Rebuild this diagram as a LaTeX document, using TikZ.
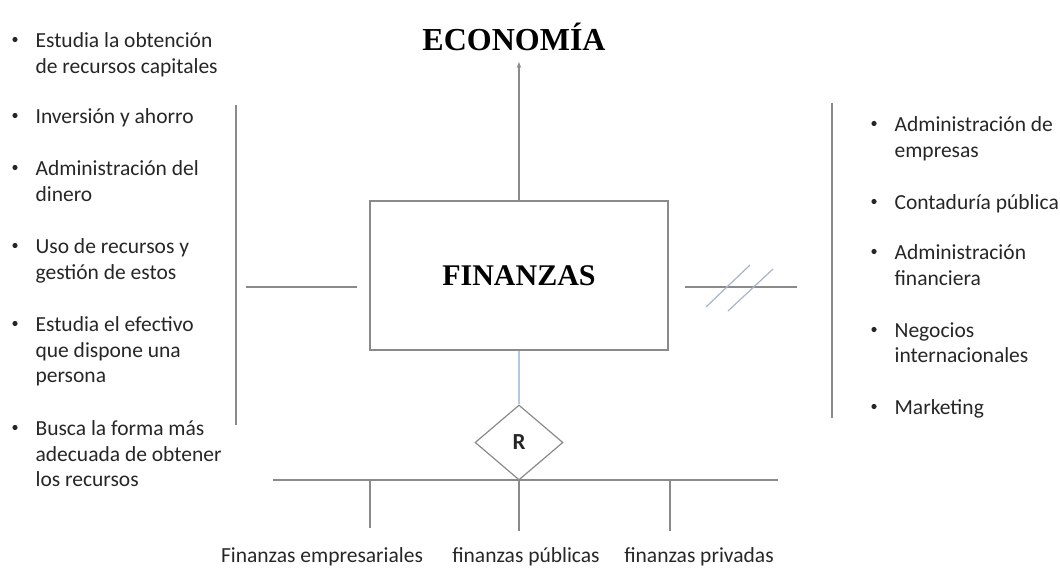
\documentclass[tikz,border=0pt]{standalone}
\usepackage{fontspec}
\setmainfont{Carlito}
\newfontfamily\titlefont{Liberation Serif}
\usetikzlibrary{arrows.meta,shapes.geometric,positioning}
\definecolor{linegray}{HTML}{8A8A8A}
\definecolor{lineblue}{HTML}{B4C8E0}
\definecolor{slashblue}{HTML}{A8B4C8}
\definecolor{txt}{HTML}{262626}

\begin{document}
\begin{tikzpicture}[x=1pt,y=-1pt,line width=1.2pt,
	item/.style={anchor=north west,inner sep=0pt,align=left,text=txt,
		font=\fontsize{21.5}{25.5}\selectfont,
		append after command={node[dot] at ([xshift=-20pt,yshift=-7.5pt]\tikzlastnode.north west) {}}},
	dot/.style={circle,fill=txt,inner sep=0pt,minimum size=5.2pt},
	sub/.style={text=txt,font=\fontsize{21.5}{21.5}\selectfont,inner sep=0pt},
	title/.style={inner sep=0pt,font=\titlefont\bfseries\fontsize{#1}{#1}\selectfont}]
	\useasboundingbox (0,0) rectangle (1060,569);

	% left column
	\node[item] (l1) at (35,32) {Estudia la obtención\\de recursos capitales};
	\node[item] (l2) at (35,108) {Inversión y ahorro};
	\node[item] (l3) at (35,160) {Administración del\\dinero};
	\node[item] (l4) at (35,238) {Uso de recursos y\\gestión de estos};
	\node[item] (l5) at (35,316) {Estudia el efectivo\\que dispone una\\persona};
	\node[item] (l6) at (35,420) {Busca la forma más\\adecuada de obtener\\los recursos};

	% right column
	\node[item] (r1) at (894,116) {Administración de\\empresas};
	\node[item] (r2) at (894,194) {Contaduría pública};
	\node[item] (r3) at (894,244) {Administración\\financiera};
	\node[item] (r4) at (894,322) {Negocios\\internacionales};
	\node[item] (r5) at (894,399) {Marketing};

	% centre
	\node[title=32] (eco) at (514,37) {ECONOMÍA};
	\node[title=30,draw=linegray,minimum width=298pt,minimum height=149pt] (fin) at (519,275.5) {FINANZAS};
	\node[diamond,draw=linegray,inner sep=0pt,minimum width=88pt,minimum height=75pt,
		text=txt,font=\bfseries\fontsize{23}{23}\selectfont] (rel) at (519,442.5) {R};
	\coordinate (ecotip) at (519,62);
	\draw[linegray,-{Stealth[length=6pt,width=4.5pt]}] (fin.north) -- (ecotip);
	\draw[lineblue] (fin.south) -- (rel.north);

	% side bars
	\draw[linegray] (236,105) -- (236,425);
	\draw[linegray] (246,287) -- (357,287);
	\draw[linegray] (685,287) -- (797,287);
	\draw[slashblue] (706,307) -- (750,265);
	\draw[slashblue] (728,311) -- (773,269);
	\draw[linegray] (832,103) -- (832,418);

	% branches
	\coordinate (barL) at (273,480);
	\coordinate (barR) at (778,480);
	\draw[linegray] (barL) -- (barR);
	\node[sub] (fe) at (322,557) {Finanzas empresariales};
	\node[sub] (fp) at (526,557) {finanzas públicas};
	\node[sub] (fv) at (699,557) {finanzas privadas};
	\coordinate (d1) at (370,480);
	\coordinate (d3) at (670,480);
	\draw[linegray] (d1) -- (370,528);
	\draw[linegray] (rel.south) -- (519,531);
	\draw[linegray] (d3) -- (670,531);
\end{tikzpicture}
\end{document}
